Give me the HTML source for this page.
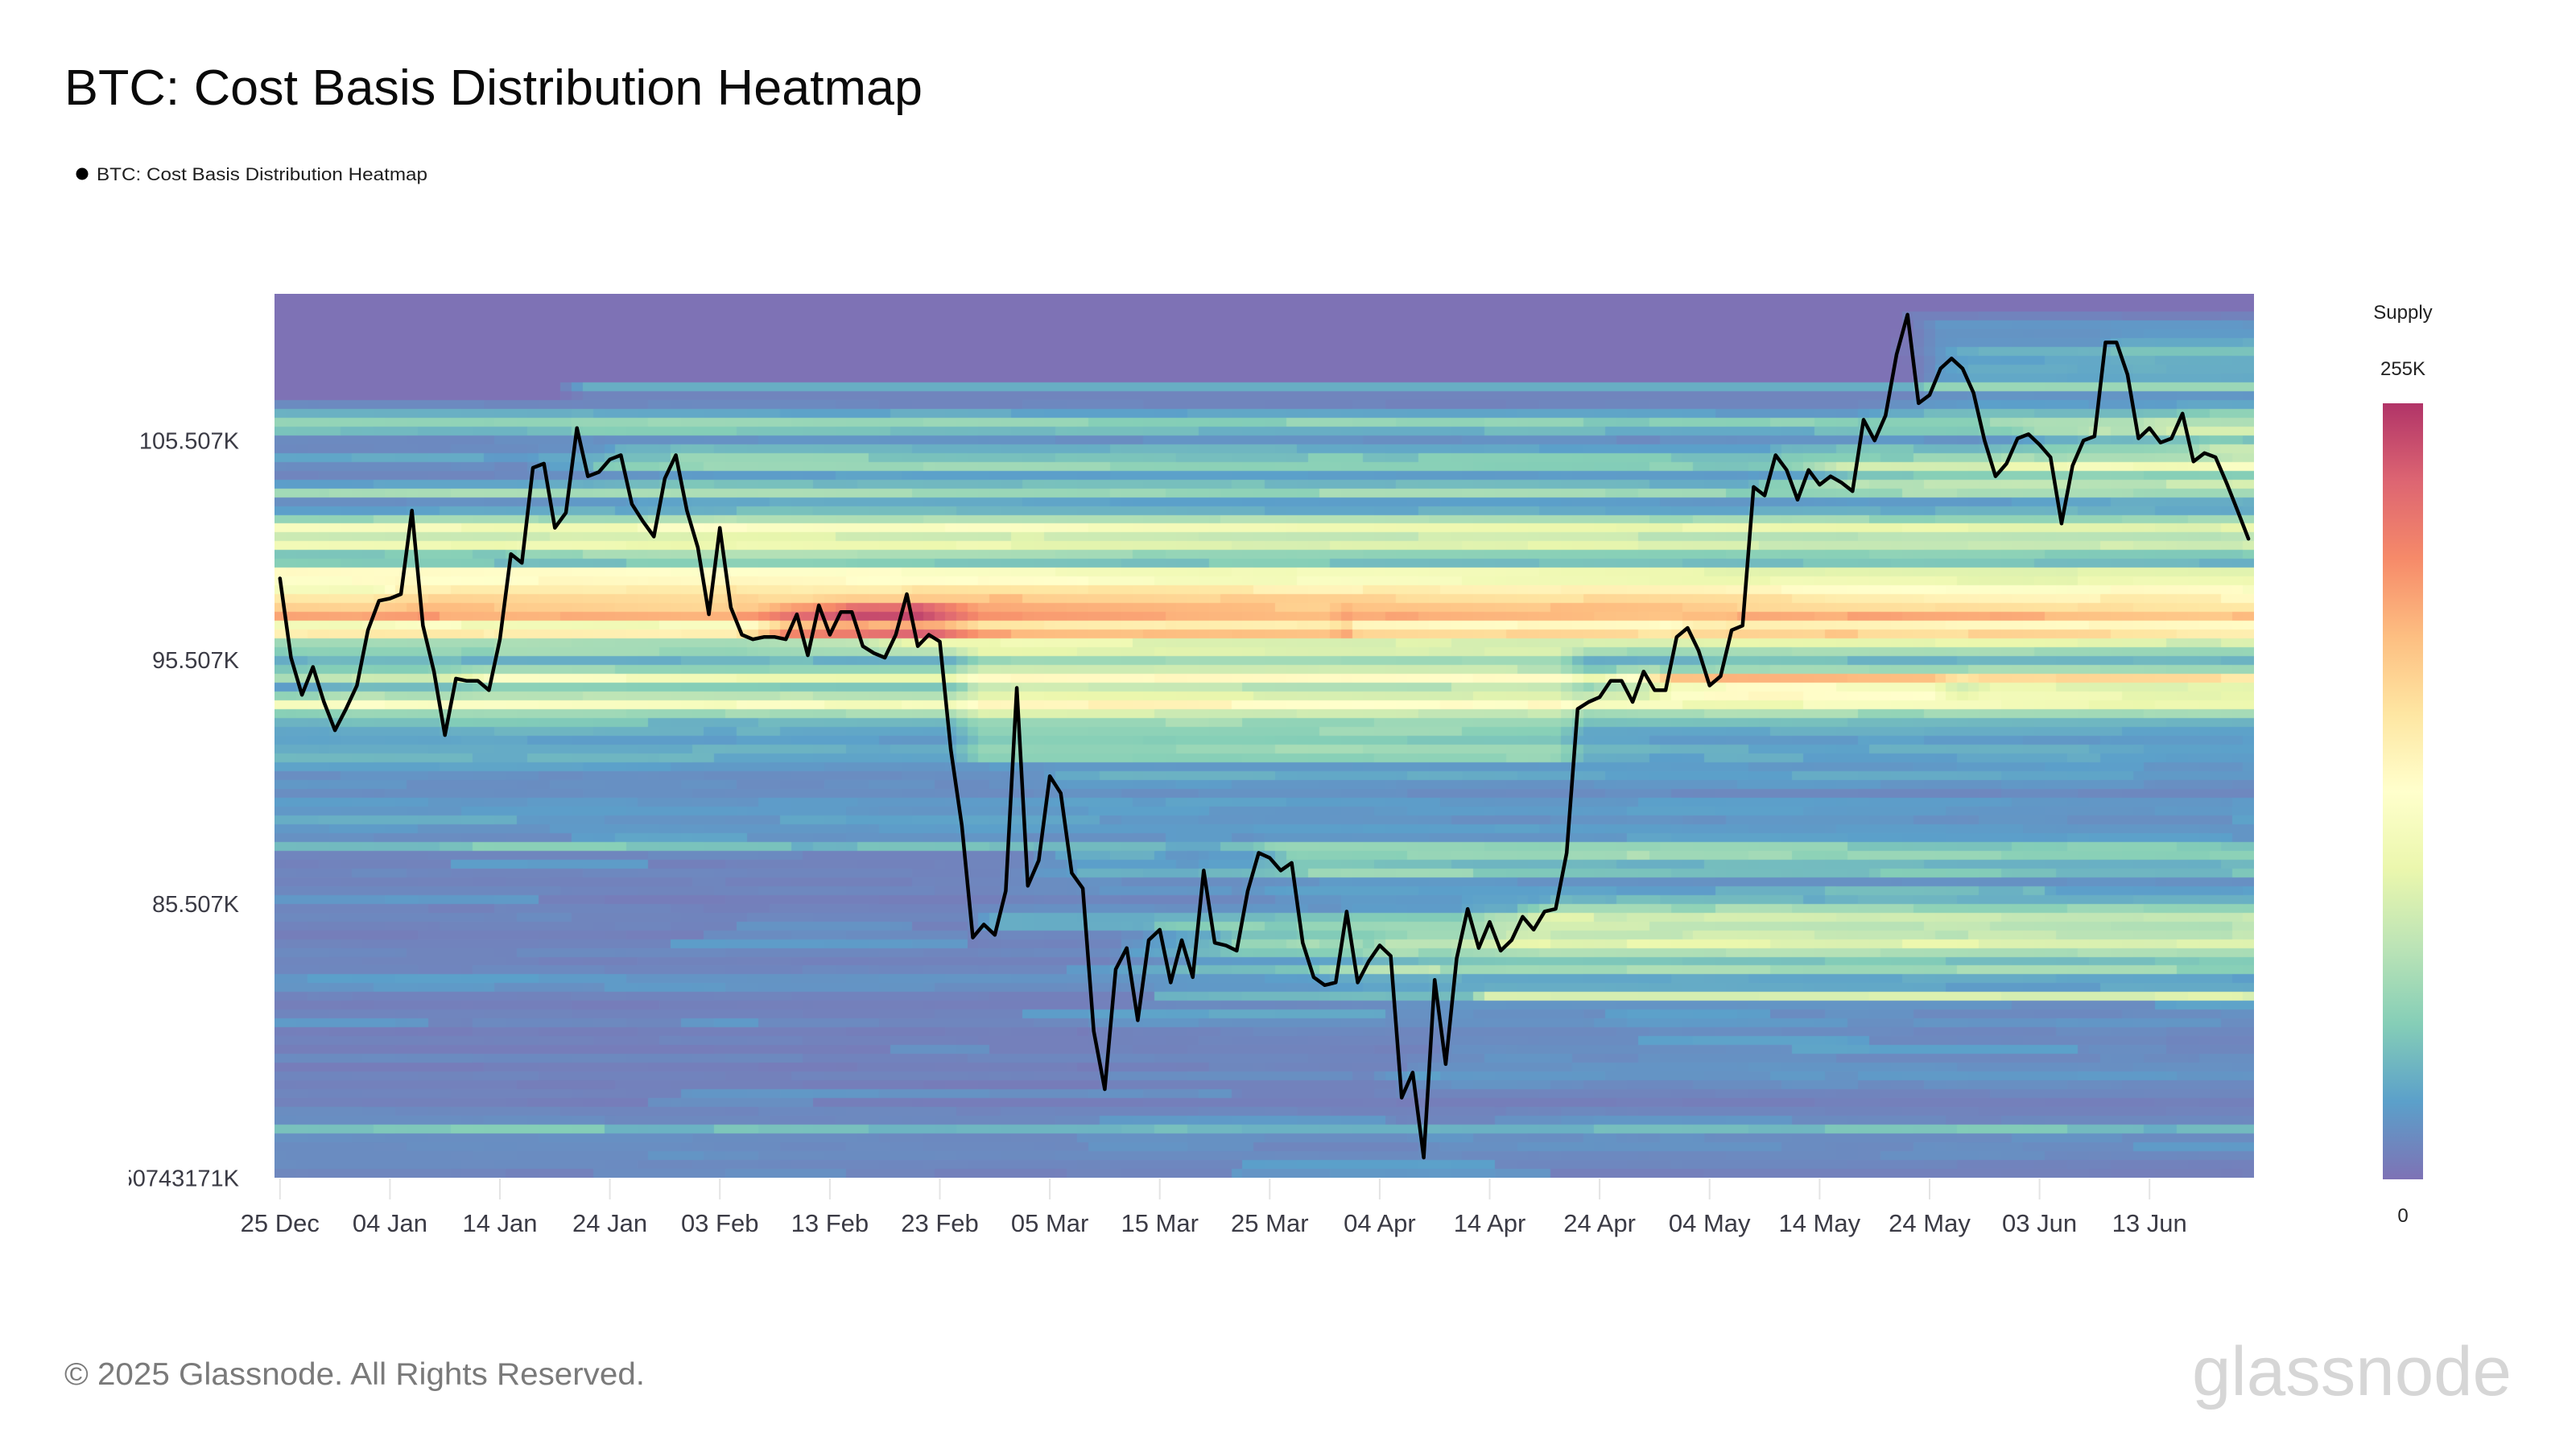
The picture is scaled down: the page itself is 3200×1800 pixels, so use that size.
<!DOCTYPE html>
<html><head><meta charset="utf-8">
<style>
html,body{margin:0;padding:0;background:#fff;}
body{width:3200px;height:1800px;position:relative;overflow:hidden;font-family:"Liberation Sans",Arial,sans-serif;}
#hm{position:absolute;left:341px;top:365px;width:2459px;height:1098px;background:#7e72b5;}
#ov{position:absolute;left:0;top:0;}
</style></head><body>
<canvas id="hm" width="2459" height="1098"></canvas>
<svg id="ov" width="3200" height="1800" viewBox="0 0 3200 1800" xmlns="http://www.w3.org/2000/svg" font-family="Liberation Sans, Arial, sans-serif">
<defs>
<linearGradient id="cb" x1="0" y1="0" x2="0" y2="1">
<stop offset="0" stop-color="#b13468"/><stop offset="0.1" stop-color="#dd6572"/><stop offset="0.2" stop-color="#f68a69"/>
<stop offset="0.3" stop-color="#fdbe81"/><stop offset="0.4" stop-color="#fee6a2"/><stop offset="0.5" stop-color="#ffffcc"/>
<stop offset="0.6" stop-color="#ebf7ad"/><stop offset="0.7" stop-color="#bce4b6"/><stop offset="0.8" stop-color="#85ceb7"/>
<stop offset="0.9" stop-color="#5ba0ca"/><stop offset="1" stop-color="#7e72b5"/>
</linearGradient>
<clipPath id="yc"><rect x="160" y="1430" width="150" height="60"/></clipPath>
</defs>
<text x="80" y="130" font-size="62" fill="#0a0a0a" textLength="1066" lengthAdjust="spacingAndGlyphs">BTC: Cost Basis Distribution Heatmap</text>
<circle cx="102" cy="216" r="7.5" fill="#000"/>
<text x="120" y="224" font-size="22" fill="#1e1e1e" textLength="411" lengthAdjust="spacingAndGlyphs">BTC: Cost Basis Distribution Heatmap</text>

<g font-size="29" fill="#3b3b45" text-anchor="end">
<text x="297" y="557.5">105.507K</text>
<text x="297" y="830">95.507K</text>
<text x="297" y="1133">85.507K</text>
<text x="297" y="1473.5" clip-path="url(#yc)">75.50743171K</text>
</g>
<g id="ticks" stroke="#e4e4e4" stroke-width="2"></g>
<g id="xl" font-size="31" fill="#3b3b45" text-anchor="middle">
<text x="347.8" y="1530">25 Dec</text><text x="484.4" y="1530">04 Jan</text><text x="621.0" y="1530">14 Jan</text>
<text x="757.6" y="1530">24 Jan</text><text x="894.2" y="1530">03 Feb</text><text x="1030.9" y="1530">13 Feb</text>
<text x="1167.5" y="1530">23 Feb</text><text x="1304.1" y="1530">05 Mar</text><text x="1440.7" y="1530">15 Mar</text>
<text x="1577.3" y="1530">25 Mar</text><text x="1713.9" y="1530">04 Apr</text><text x="1850.5" y="1530">14 Apr</text>
<text x="1987.1" y="1530">24 Apr</text><text x="2123.7" y="1530">04 May</text><text x="2260.3" y="1530">14 May</text>
<text x="2397.0" y="1530">24 May</text><text x="2533.6" y="1530">03 Jun</text><text x="2670.2" y="1530">13 Jun</text>
</g>
<polyline id="pl" fill="none" stroke="#000" stroke-width="4.5" stroke-linejoin="round" stroke-linecap="round" points=""/>

<text x="2985" y="396" font-size="24" fill="#222" text-anchor="middle">Supply</text>
<text x="2985" y="466" font-size="24" fill="#222" text-anchor="middle">255K</text>
<rect x="2960" y="501" width="50" height="964" fill="url(#cb)"/>
<text x="2985" y="1518" font-size="24" fill="#222" text-anchor="middle">0</text>

<text x="80" y="1720" font-size="39" fill="#7a7a7a" textLength="721" lengthAdjust="spacingAndGlyphs">© 2025 Glassnode. All Rights Reserved.</text>
<text x="2723" y="1733" font-size="86" fill="#d6d6d6" textLength="397" lengthAdjust="spacingAndGlyphs">glassnode</text>
</svg>
<script>
(function(){
var C=[99.1,95.6,94.0,95.2,93.7,92.5,93.4,
94.4,96.8,98.1,98.2,98.4,102.2,97.0,95.0,92.3,94.7,94.6,94.6,94.2,96.4,100.2,99.8,104.2,104.4,101.4,102.1,106.1,103.8,104.0,104.6,104.8,102.5,101.7,101.0,103.7,104.8,102.2,
100.5,97.5,101.4,97.8,96.6,96.4,96.5,96.5,96.4,97.5,95.7,97.9,96.6,97.6,97.6,96.1,95.8,95.6,96.6,98.4,96.1,96.6,96.3,91.7,88.6,84.2,84.7,84.3,
86.0,94.3,86.2,87.2,90.6,89.9,86.7,86.1,80.7,78.6,83.0,83.8,81.1,84.1,84.5,82.5,84.1,82.7,86.8,84.0,83.9,83.7,86.0,87.5,87.3,86.8,87.1,84.0,82.7,82.4,82.5,
85.2,82.5,83.3,83.9,83.5,78.3,79.2,76.2,82.6,79.5,83.4,85.3,83.8,84.8,83.7,84.1,85.0,84.5,85.2,85.3,87.5,93.4,93.7,93.9,94.6,94.6,93.7,95.0,94.2,94.2,
96.5,96.9,95.9,94.4,94.8,96.8,97.0,103.3,102.9,104.8,104.1,102.7,104.1,103.4,103.8,103.5,103.1,106.5,105.5,106.7,109.7,111.7,107.3,107.7,109.0,109.5,109.0,107.8,105.5,103.8,104.4,
105.6,105.8,105.3,104.7,101.6,104.3,105.5,105.7,110.3,110.3,108.7,105.6,106.1,105.4,105.6,106.8,104.5,104.9,104.7,103.5,102.2,100.9];
var base=[0,0,0,0,0,0,0,0,0,0,0,0,
.05,.12,.25,.17,.06,.05,.11,.06,.05,.10,.25,.06,.10,.24,.45,.33,.42,.20,.18,.50,.50,.47,.60,.66,.72,.43,.57,.27,.20,.12,.18,.28,.10,.25,.45,.20,.12,.12,
.10,.15,.14,.10,.07,.07,.06,.09,.09,.08,.09,.07,.15,.05,.04,.05,.04,.05,.03,.04,.05,.04,.03,.04,.05,.04,.05,.09,.08,.04,.03,.04,.05,.03,.04,.03,.05,.03,.04,.03,.04,.03,.05,.06,.18,.07,.06,.07,.05,.04];
var N=100,T=C.length,RH=10.98,CW=2459/180;
function yOf(p){return 1463-2738*Math.log(p/75.50743);}
function rOf(p){return (yOf(p)-365)/RH;}
function mb(a){return function(){a|=0;a=a+0x6D2B79F5|0;var t=Math.imul(a^a>>>15,1|a);t=t+Math.imul(t^t>>>7,61|t)^t;return((t^t>>>14)>>>0)/4294967296;};}
var rnd=mb(7);
var rf=[];for(var k=0;k<N;k++)rf[k]=0.45+rnd()*1.1;
rf[35]=1.2;rf[36]=1.3;rf[37]=1.2;rf[38]=1.1;rf[43]=1.3;rf[44]=1.3;rf[45]=1.2;
var H={26:108.2,148:111.9,166:110.5,167:110.4},L={65:78.2,75:77.5,76:76.6,103:74.5,105:74.6};
var V=base.slice(),G=[],A=0.06,SH=1.2;
function addU(a,b,w){
  if(b-a<0.5){var m=(a+b)/2;a=m-0.25;b=m+0.25;}
  for(var k=Math.max(2,Math.floor(a));k<=Math.min(N-1,Math.floor(b));k++){
    var ov=Math.min(b,k+1)-Math.max(a,k);if(ov>0)V[k]+=w*ov/(b-a)*rf[k];
  }
}
for(var t=0;t<T;t++){
  if(t>0){
    for(k=0;k<N;k++)V[k]*=0.998;
    var p0=C[t-1],p1=C[t],lo=Math.min(p0,p1),hi=Math.max(p0,p1);
    var whi=H[t]||hi*1.004,wlo=L[t]||lo*0.99;
    var top=rOf(whi),bot=rOf(wlo);
    addU(top,bot,0.2*A);
    var ca=Math.max(top,rOf(hi)-SH),cb=rOf(lo)-SH;if(cb<ca+0.5)cb=ca+0.5;
    addU(ca,cb,0.35*A);
    var g=Math.max(top+0.5,rOf(p1)-SH);
    for(k=2;k<N;k++){var d=k+0.5-g;if(Math.abs(d)<3.5)V[k]+=0.45*A*Math.exp(-d*d/1.62)/2.256*rf[k];}
  }
  G[t]=V.slice();
}
// texture noise
for(k=0;k<N;k++){var pos=0;while(pos<T){var len=3+Math.floor(rnd()*18),off=(rnd()-0.5)*0.06;
  for(t=pos;t<Math.min(T,pos+len);t++){var v=G[t][k];if(v>0.015)G[t][k]=Math.max(0.01,v+off*Math.min(1,v*6));}
  pos+=len;}}
for(k=55;k<N;k++){pos=0;while(pos<T){len=5+Math.floor(rnd()*30);
  if(rnd()<0.08){var ad=0.02+rnd()*0.04;for(t=pos;t<Math.min(T,pos+len);t++)G[t][k]+=ad;}
  pos+=len;}}
var B=[
[40,52,62,118,0.10],
[3,10,149,179,0.06],
[10,10,26,179,0.13],[11,11,26,179,0.04],
[79,79,80,107,0.1],[79,79,108,179,0.3],
[43,45,125,152,0.12],[43,45,153,179,0.06],
[35,36,44,60,0.08],[37,38,44,60,0.10],
[35,38,62,97,-0.09],
[37,38,98,179,-0.12],[35,36,98,179,-0.05]
];
B.forEach(function(b){for(var k=b[0];k<=b[1];k++)for(var t=b[2];t<=Math.min(T-1,b[3]);t++){
  var w=Math.min(1,(t-b[2]+1)/3,(b[3]-t+1)/3);if(b[2]===26||b[2]===108||b[2]===80||b[2]===98)w=1;if(b[3]===179)w=Math.min(1,(t-b[2]+1)/3);if(b[2]===98)w=1;
  G[t][k]+=b[4]*w;}});
for(t=0;t<T;t++){G[t][0]=0;G[t][1]=0;}
var S=[[94,79,162],[50,136,189],[102,194,165],[171,221,164],[230,245,152],[255,255,191],[254,224,139],[253,174,97],[244,109,67],[213,62,79],[158,1,66]];
function col(v){v=Math.max(0,Math.min(1,v))*10;var i=Math.min(9,Math.floor(v)),f=v-i,a=S[i],b=S[i+1],r=[];
  for(var j=0;j<3;j++)r[j]=Math.round(0.8*(a[j]+(b[j]-a[j])*f)+51);return'rgb('+r[0]+','+r[1]+','+r[2]+')';}
var cv=document.getElementById('hm'),cx=cv.getContext('2d');
for(t=0;t<T;t++){var x0=Math.round(t*CW),x1=Math.round((t+1)*CW);
  for(k=0;k<N;k++){var y0=Math.round(k*RH),y1=Math.round((k+1)*RH);cx.fillStyle=col(G[t][k]);cx.fillRect(x0,y0,x1-x0,y1-y0);}}
var pts=[];for(t=0;t<T;t++)pts.push((347.8+t*CW).toFixed(1)+','+yOf(C[t]).toFixed(1));
document.getElementById('pl').setAttribute('points',pts.join(' '));
var tg=document.getElementById('ticks'),ns='http://www.w3.org/2000/svg';
for(var i=0;i<18;i++){var x=(347.8+i*10*CW).toFixed(1),l=document.createElementNS(ns,'line');
  l.setAttribute('x1',x);l.setAttribute('x2',x);l.setAttribute('y1','1464');l.setAttribute('y2','1490');tg.appendChild(l);}
})();
</script>
</body></html>
